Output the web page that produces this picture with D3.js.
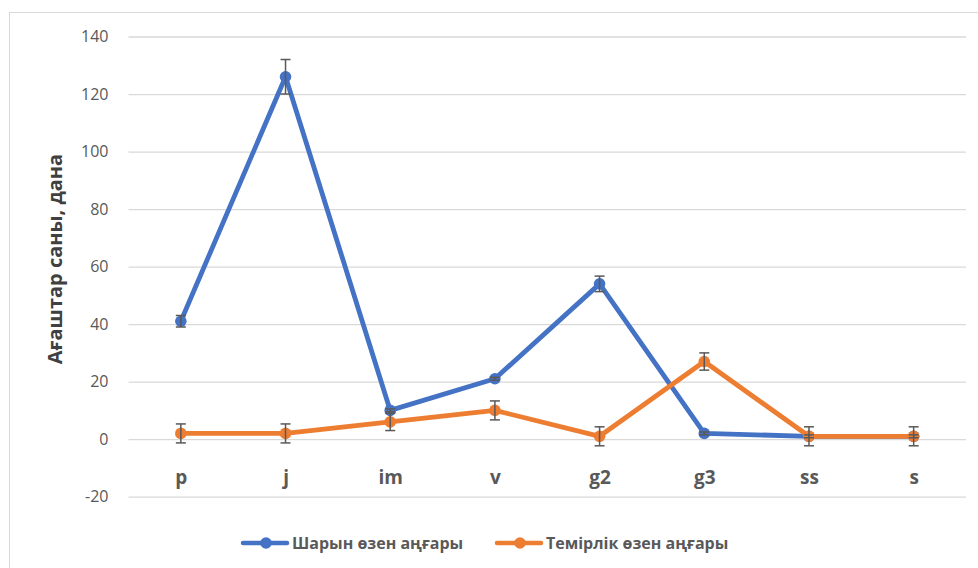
<!DOCTYPE html>
<html>
<head>
<meta charset="utf-8">
<script src="https://cdn.jsdelivr.net/npm/d3@7"></script>
<style>
  body { margin: 0; background: #fff; }
  svg { display: block; font-family: "Open Sans", "Noto Sans", sans-serif; }
</style>
</head>
<body>
<div id="chart"></div>
<script>
// Line chart with error bars - tree counts by category, two river valleys

const categories = ['p', 'j', 'im', 'v', 'g2', 'g3', 'ss', 's'];
const sharynValues = [41, 126, 10, 21, 54, 2, 1, 1];
const sharynErrors = [2, 6, 0.5, 0.5, 2.7, 0.5, 0.5, 0.5];
const temirlikValues = [2, 2, 6, 10, 1, 27, 1, 1];
const temirlikErrors = [3.3, 3.3, 3, 3.3, 3.3, 3, 3.3, 3.3];
const yTicks = [-20, 0, 20, 40, 60, 80, 100, 120, 140];
const seriesNames = ['Шарын өзен аңғары', 'Темірлік өзен аңғары'];
const yTitle = 'Ағаштар саны, дана';

const W = 978, H = 568;
const plot = { left: 128.5, right: 966, top: 36.5, bottom: 496.7 };
const colors = ['#4472c4', '#ed7d31'];
const textColor = '#595959';

const svg = d3.select('#chart').append('svg')
    .attr('width', W)
    .attr('height', H);

// chart frame
svg.append('rect')
    .attr('x', 9.5).attr('y', 12.5)
    .attr('width', W).attr('height', H)
    .attr('fill', '#fff')
    .attr('stroke', '#d9d9d9')
    .attr('stroke-width', 1);

const x = d3.scalePoint()
    .domain(categories)
    .range([plot.left, plot.right])
    .padding(0.5);

const y = d3.scaleLinear()
    .domain([d3.min(yTicks), d3.max(yTicks)])
    .range([plot.bottom, plot.top]);

// gridlines + y labels (plain hyphen for negatives, like Excel)
const yAxis = d3.axisLeft(y)
    .tickValues(yTicks)
    .tickFormat(d => String(d))
    .tickSize(-(plot.right - plot.left))
    .tickPadding(20);

const yAxisGroup = svg.append('g')
    .attr('transform', `translate(${plot.left},0)`)
    .call(yAxis);

yAxisGroup.select('.domain').remove();
yAxisGroup.selectAll('line')
    .attr('stroke', '#d9d9d9')
    .attr('stroke-width', 1.3);
yAxisGroup.selectAll('text')
    .attr('fill', textColor)
    .attr('font-size', 16)
    .attr('font-family', '"Open Sans", sans-serif');

// category labels (sit just under the zero line)
const xAxis = d3.axisBottom(x).tickSize(0).tickPadding(31);
const xAxisGroup = svg.append('g')
    .attr('transform', `translate(0,${y(0)})`)
    .call(xAxis);
xAxisGroup.select('.domain').remove();
xAxisGroup.selectAll('text')
    .attr('fill', textColor)
    .attr('font-size', 19)
    .attr('font-weight', 'bold')
    .attr('font-family', '"Open Sans", sans-serif');

// y axis title
svg.append('text')
    .attr('transform', `translate(62, 259) rotate(-90)`)
    .attr('text-anchor', 'middle')
    .attr('fill', '#404040')
    .attr('font-size', 20)
    .attr('font-weight', 'bold')
    .text(yTitle);

const series = [
    { name: seriesNames[0], values: sharynValues, errors: sharynErrors, color: colors[0] },
    { name: seriesNames[1], values: temirlikValues, errors: temirlikErrors, color: colors[1] }
];

const line = d3.line()
    .x((d, i) => x(categories[i]))
    .y(d => y(d));

series.forEach(s => {
    const g = svg.append('g').attr('class', 'series');

    g.append('path')
        .datum(s.values)
        .attr('fill', 'none')
        .attr('stroke', s.color)
        .attr('stroke-width', 4.8)
        .attr('stroke-linejoin', 'round')
        .attr('d', line);

    g.selectAll('circle')
        .data(s.values)
        .enter()
        .append('circle')
        .attr('cx', (d, i) => x(categories[i]))
        .attr('cy', d => y(d))
        .attr('r', 5.8)
        .attr('fill', s.color);
});

// error bars on top
series.forEach(s => {
    const eb = svg.append('g').attr('class', 'error-bars');
    const rows = s.values.map((v, i) => ({ cat: categories[i], v: v, e: s.errors[i] }));

    eb.selectAll('.eb-v')
        .data(rows)
        .enter()
        .append('line')
        .attr('x1', d => x(d.cat)).attr('x2', d => x(d.cat))
        .attr('y1', d => y(d.v - d.e)).attr('y2', d => y(d.v + d.e))
        .attr('stroke', textColor)
        .attr('stroke-width', 1.5);

    [-1, 1].forEach(sign => {
        eb.selectAll('.eb-cap' + sign)
            .data(rows)
            .enter()
            .append('line')
            .attr('x1', d => x(d.cat) - 5).attr('x2', d => x(d.cat) + 5)
            .attr('y1', d => y(d.v + sign * d.e)).attr('y2', d => y(d.v + sign * d.e))
            .attr('stroke', textColor)
            .attr('stroke-width', 1.5);
    });
});

// legend
const legendItems = [
    { name: seriesNames[0], color: colors[0], x0: 243 },
    { name: seriesNames[1], color: colors[1], x0: 497 }
];
const legendY = 543;
const legend = svg.append('g').attr('class', 'legend');
legendItems.forEach(it => {
    legend.append('line')
        .attr('x1', it.x0).attr('x2', it.x0 + 44)
        .attr('y1', legendY).attr('y2', legendY)
        .attr('stroke', it.color)
        .attr('stroke-width', 4.5)
        .attr('stroke-linecap', 'round');
    legend.append('circle')
        .attr('cx', it.x0 + 23).attr('cy', legendY)
        .attr('r', 5.8)
        .attr('fill', it.color);
    legend.append('text')
        .attr('x', it.x0 + 49)
        .attr('y', legendY + 6)
        .attr('fill', textColor)
        .attr('font-size', 16)
        .attr('font-weight', 'bold')
        .text(it.name);
});
</script>
</body>
</html>
